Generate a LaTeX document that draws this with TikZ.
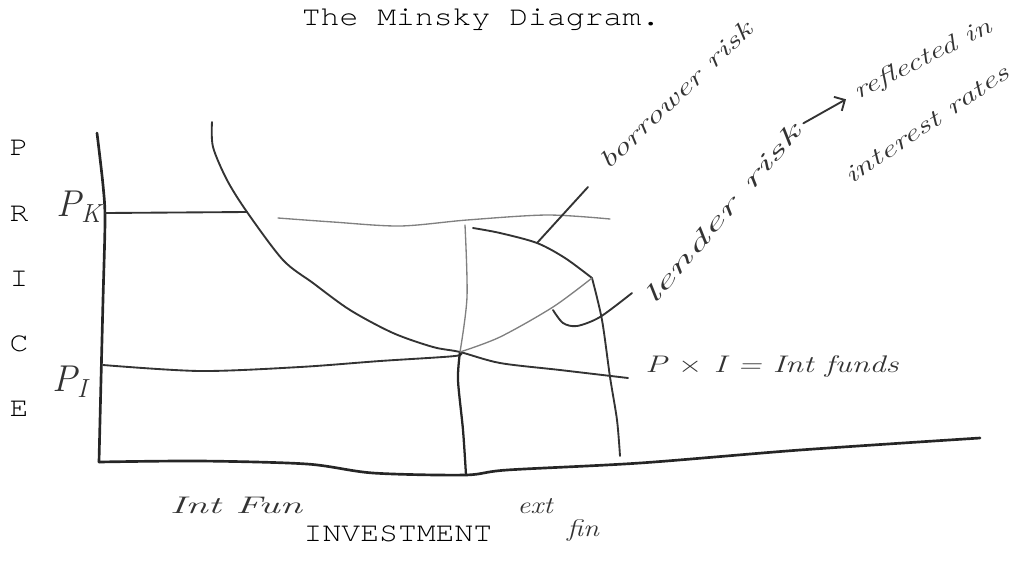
\documentclass[tikz,border=0pt]{standalone}
\usepackage{fontspec}
\newfontfamily\typewriter{texgyrecursor-regular.otf}[FakeStretch=1.15]
\usetikzlibrary{positioning,arrows.meta}

\begin{document}
\begin{tikzpicture}[
			x=0.75pt,y=-0.75pt,
			typed/.style={font=\typewriter\fontsize{20.5}{23}\selectfont,inner sep=0pt},
			hand/.style={font=\itshape\fontsize{18}{20}\selectfont,text=black!80,inner sep=0pt},
			axis/.style={line width=2pt,black!85,line cap=round,line join=round},
			ink/.style={line width=1.4pt,black!80,line cap=round,line join=round},
			pencil/.style={line width=1pt,black!50,line cap=round,line join=round}
			]
			\useasboundingbox (0,0) rectangle (1034,561);
			
			\node[typed] (title) at (481,20) {The Minsky Diagram.};
			\foreach \l [count=\i] in {P,R,I,C,E}
				\node[typed] (price\i) at (19,83+\i*65.2) {\l};
			\node[typed] (invest) at (398,534) {INVESTMENT};
			
			% points of the sketch
			\coordinate (top) at (97,133);
			\coordinate (origin) at (99,462);
			\coordinate (xend) at (980,438);
			\coordinate (pk) at (105,213);
			\coordinate (pi) at (103,365);
			\coordinate (eq) at (460,352);
			\coordinate (foot) at (466,475);
			\coordinate (kink) at (592,278);
			\coordinate (cut) at (620,456);
			
			% axes
			\draw[axis] plot[smooth] coordinates {(top) (103,185) (105,220) (103,300) (101,380) (origin)};
			\draw[axis] plot[smooth] coordinates {(origin) (200,461) (307,464) (373,473) (465,475) (507,470) (640,463) (800,450) (xend)};
			
			% price levels
			\draw[ink] (pk) -- (247,212);
			\draw[pencil] plot[smooth] coordinates {(278,218) (333,222) (400,226) (467,220) (547,215) (610,219)};
			\draw[ink] plot[smooth] coordinates {(pi) (200,371) (300,367) (380,361) (455,356) (eq)};
			
			% P x I curve
			\draw[ink] plot[smooth] coordinates {(212,122) (213,147) (227,180) (247,212) (283,260) (313,283) (350,310) (393,333) (433,347) (eq) (500,363) (560,370) (628,378)};
			
			% investment lines
			\draw[pencil] plot[smooth] coordinates {(465,225) (467,297) (eq)};
			\draw[axis,line width=1.7pt] plot[smooth] coordinates {(eq) (458,380) (463,430) (foot)};
			\draw[ink] plot[smooth] coordinates {(473,228) (500,233) (537,243) (565,258) (kink)};
			\draw[ink] plot[smooth] coordinates {(kink) (602,320) (610,377) (617,420) (cut)};
			\draw[pencil] plot[smooth] coordinates {(eq) (500,337) (553,307) (kink)};
			
			% pointers
			\draw[ink] (537,243) -- (588,187);
			\draw[ink] plot[smooth] coordinates {(553,310) (563,323) (577,326) (600,317) (632,293)};
			
			% handwriting
			\node[hand,font=\itshape\fontsize{28}{30}\selectfont] (pklabel) at (79,207) {P\textsubscript{K}};
			\node[hand,font=\itshape\fontsize{28}{30}\selectfont] (pilabel) at (70,382) {P\textsubscript{I}};
			\node[hand,rotate=43.6] (brisk) at (676,95) {\scalebox{1.5}[1]{borrower risk}};
			\node[hand,rotate=49.4] (lrisk) at (722,214) {\scalebox{2.1}[1]{lender risk}};
			\node[hand,rotate=26.7] (refl) at (923,60) {\scalebox{1.35}[1]{reflected in}};
			\node[hand,rotate=34] (rates) at (927,124) {\scalebox{1.45}[1]{interest rates}};
			\draw[ink,-{Straight Barb[length=6pt]},shorten <=6pt,shorten >=8pt] (lrisk.east) -- (refl.west);
			\node[hand] (funds) at (772,366) {\scalebox{1.35}[1]{P $\times$ I = Int funds}};
			\node[hand] (intfin) at (236,505) {\scalebox{1.7}[1]{Int Fun}};
			\node[hand] (ext) at (535,506) {\scalebox{1.2}[1]{ext}};
			\node[hand] (fin) at (583,530) {\scalebox{1.2}[1]{fin}};
		\end{tikzpicture}
\end{document}
